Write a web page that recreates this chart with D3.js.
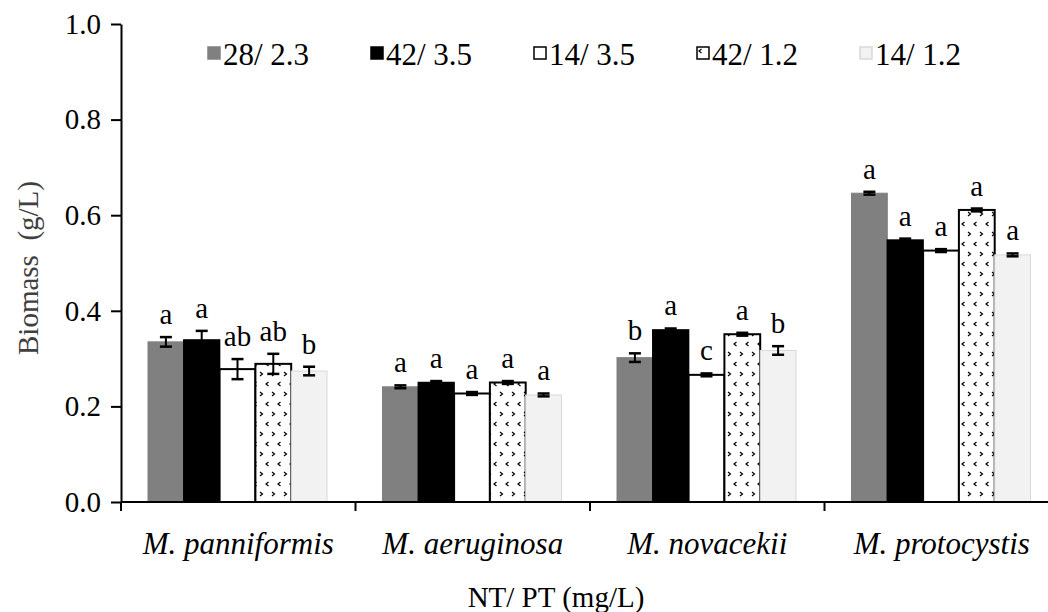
<!DOCTYPE html>
<html>
<head>
<meta charset="utf-8">
<script src="https://cdn.jsdelivr.net/npm/d3@7"></script>
<style>
  html, body { margin: 0; padding: 0; background: #fff; }
  svg { display: block; font-family: "Liberation Serif", "Times New Roman", serif; }
</style>
</head>
<body>
<div id="chart"></div>
<script>
// data
const categories = ["M. panniformis", "M. aeruginosa", "M. novacekii", "M. protocystis"];
const seriesNames = ["28/ 2.3", "42/ 3.5", "14/ 3.5", "42/ 1.2", "14/ 1.2"];

const biomass_28_23 = [0.335, 0.241, 0.302, 0.646];
const biomass_42_35 = [0.339, 0.250, 0.360, 0.548];
const biomass_14_35 = [0.278, 0.227, 0.266, 0.526];
const biomass_42_12 = [0.289, 0.250, 0.351, 0.611];
const biomass_14_12 = [0.274, 0.224, 0.317, 0.517];

const err_28_23 = [0.010, 0.003, 0.009, 0.003];
const err_42_35 = [0.019, 0.003, 0.003, 0.003];
const err_14_35 = [0.021, 0.003, 0.003, 0.003];
const err_42_12 = [0.021, 0.003, 0.003, 0.003];
const err_14_12 = [0.009, 0.003, 0.009, 0.003];

const letters_28_23 = ["a", "a", "b", "a"];
const letters_42_35 = ["a", "a", "a", "a"];
const letters_14_35 = ["ab", "a", "c", "a"];
const letters_42_12 = ["ab", "a", "a", "a"];
const letters_14_12 = ["b", "a", "b", "a"];

const yTicks = [0, 0.2, 0.4, 0.6, 0.8, 1.0];

const values = [biomass_28_23, biomass_42_35, biomass_14_35, biomass_42_12, biomass_14_12];
const errors = [err_28_23, err_42_35, err_14_35, err_42_12, err_14_12];
const letters = [letters_28_23, letters_42_35, letters_14_35, letters_42_12, letters_14_12];

// styles per series
const fills = ["#808080", "#000000", "#ffffff", "url(#chev)", "#f2f2f2"];
const strokes = ["#808080", "#000000", "#000000", "#000000", "#d9d9d9"];
const strokeW = [1, 1.5, 2, 2, 1];

const W = 1048, H = 612;
const mLeft = 121, mRight = 1059, mTop = 24, mBottom = 502;
const FS = 29, FS_BIG = 31;

const svg = d3.select("#chart").append("svg")
  .attr("width", W).attr("height", H);

// sparse chevron pattern for the 42/1.2 series
const defs = svg.append("defs");
const pat = defs.append("pattern")
  .attr("id", "chev").attr("patternUnits", "userSpaceOnUse")
  .attr("width", 12).attr("height", 20);
pat.append("rect").attr("width", 12).attr("height", 20).attr("fill", "#fff");
["M4.5,2 L2,4 L4.5,6", "M8,12 L10.5,14 L8,16"].forEach(d => pat.append("path").attr("d", d)
  .attr("fill", "none").attr("stroke", "#000").attr("stroke-width", 1.2));

const x = d3.scaleBand().domain(categories).range([mLeft, mRight]).padding(0);
const xs = d3.scaleBand().domain(seriesNames)
  .range([27, x.bandwidth() - 28.5]).padding(0);
const y = d3.scaleLinear().domain([0, 1]).range([mBottom, mTop]);

// bars
seriesNames.forEach((s, si) => {
  const g = svg.append("g");
  const rows = categories.map((c, ci) => ({
    c, v: values[si][ci], e: errors[si][ci], l: letters[si][ci]
  }));
  g.selectAll("rect").data(rows).enter().append("rect")
    .attr("x", d => x(d.c) + xs(s))
    .attr("y", d => y(d.v))
    .attr("width", xs.bandwidth())
    .attr("height", d => y(0) - y(d.v))
    .attr("fill", fills[si])
    .attr("stroke", strokes[si])
    .attr("stroke-width", strokeW[si]);

  // error bars
  const cx = d => x(d.c) + xs(s) + xs.bandwidth() / 2;
  g.selectAll("line.eb").data(rows).enter().append("line")
    .attr("class", "eb")
    .attr("x1", cx).attr("x2", cx)
    .attr("y1", d => y(d.v + d.e)).attr("y2", d => y(d.v - d.e))
    .attr("stroke", "#000").attr("stroke-width", 2);
  ["hi", "lo"].forEach(k => {
    const sign = k === "hi" ? 1 : -1;
    g.selectAll("line.cap" + k).data(rows).enter().append("line")
      .attr("class", "cap" + k)
      .attr("x1", d => cx(d) - 6).attr("x2", d => cx(d) + 6)
      .attr("y1", d => y(d.v + sign * d.e)).attr("y2", d => y(d.v + sign * d.e))
      .attr("stroke", "#000").attr("stroke-width", 2.5);
  });

  // significance letters
  g.selectAll("text").data(rows).enter().append("text")
    .attr("x", cx)
    .attr("y", d => y(d.v + d.e) - 13)
    .attr("text-anchor", "middle")
    .attr("font-size", FS)
    .attr("fill", "#000")
    .text(d => d.l);
});

// y axis
const yAxis = svg.append("g")
  .attr("transform", `translate(${mLeft},0)`)
  .call(d3.axisLeft(y).tickValues(yTicks).tickFormat(d3.format(".1f"))
    .tickSize(10).tickSizeOuter(0).tickPadding(10));
yAxis.attr("font-family", null);
yAxis.select(".domain").attr("stroke", "#000").attr("stroke-width", 2);
yAxis.selectAll(".tick line").attr("stroke", "#000").attr("stroke-width", 2);
yAxis.selectAll(".tick text")
  .attr("font-family", "Liberation Serif").attr("font-size", FS).attr("fill", "#000");

// x axis line and category boundary ticks
svg.append("line")
  .attr("x1", mLeft).attr("x2", W).attr("y1", mBottom).attr("y2", mBottom)
  .attr("stroke", "#000").attr("stroke-width", 2);
const bounds = categories.map(c => x(c)).concat([x.range()[1]]);
svg.selectAll("line.xt").data(bounds).enter().append("line")
  .attr("class", "xt")
  .attr("x1", d => d).attr("x2", d => d)
  .attr("y1", mBottom).attr("y2", mBottom + 9)
  .attr("stroke", "#000").attr("stroke-width", 2);

// category labels
svg.selectAll("text.cat").data(categories).enter().append("text")
  .attr("class", "cat")
  .attr("x", d => x(d) + x.bandwidth() / 2)
  .attr("y", 554)
  .attr("text-anchor", "middle")
  .attr("font-size", FS_BIG)
  .attr("font-style", "italic")
  .text(d => d);

// axis titles
svg.append("text")
  .attr("x", 556).attr("y", 607)
  .attr("text-anchor", "middle").attr("font-size", FS)
  .text("NT/ PT (mg/L)");
svg.append("text")
  .attr("transform", "translate(38,268) rotate(-90)")
  .attr("text-anchor", "middle").attr("font-size", FS)
  .attr("fill", "#404040")
  .style("white-space", "pre")
  .text("Biomass  (g/L)");

// legend
const legend = svg.append("g").attr("transform", "translate(208,47)");
seriesNames.forEach((s, i) => {
  const lg = legend.append("g").attr("transform", `translate(${i * 163},0)`);
  lg.append("rect")
    .attr("width", 12).attr("height", 12)
    .attr("fill", fills[i])
    .attr("stroke", i === 0 ? "#808080" : (i === 4 ? "#d9d9d9" : "#000"))
    .attr("stroke-width", 1.5);
  lg.append("text")
    .attr("x", 15).attr("y", 18)
    .attr("font-size", FS_BIG)
    .text(s);
});
</script>
</body>
</html>
